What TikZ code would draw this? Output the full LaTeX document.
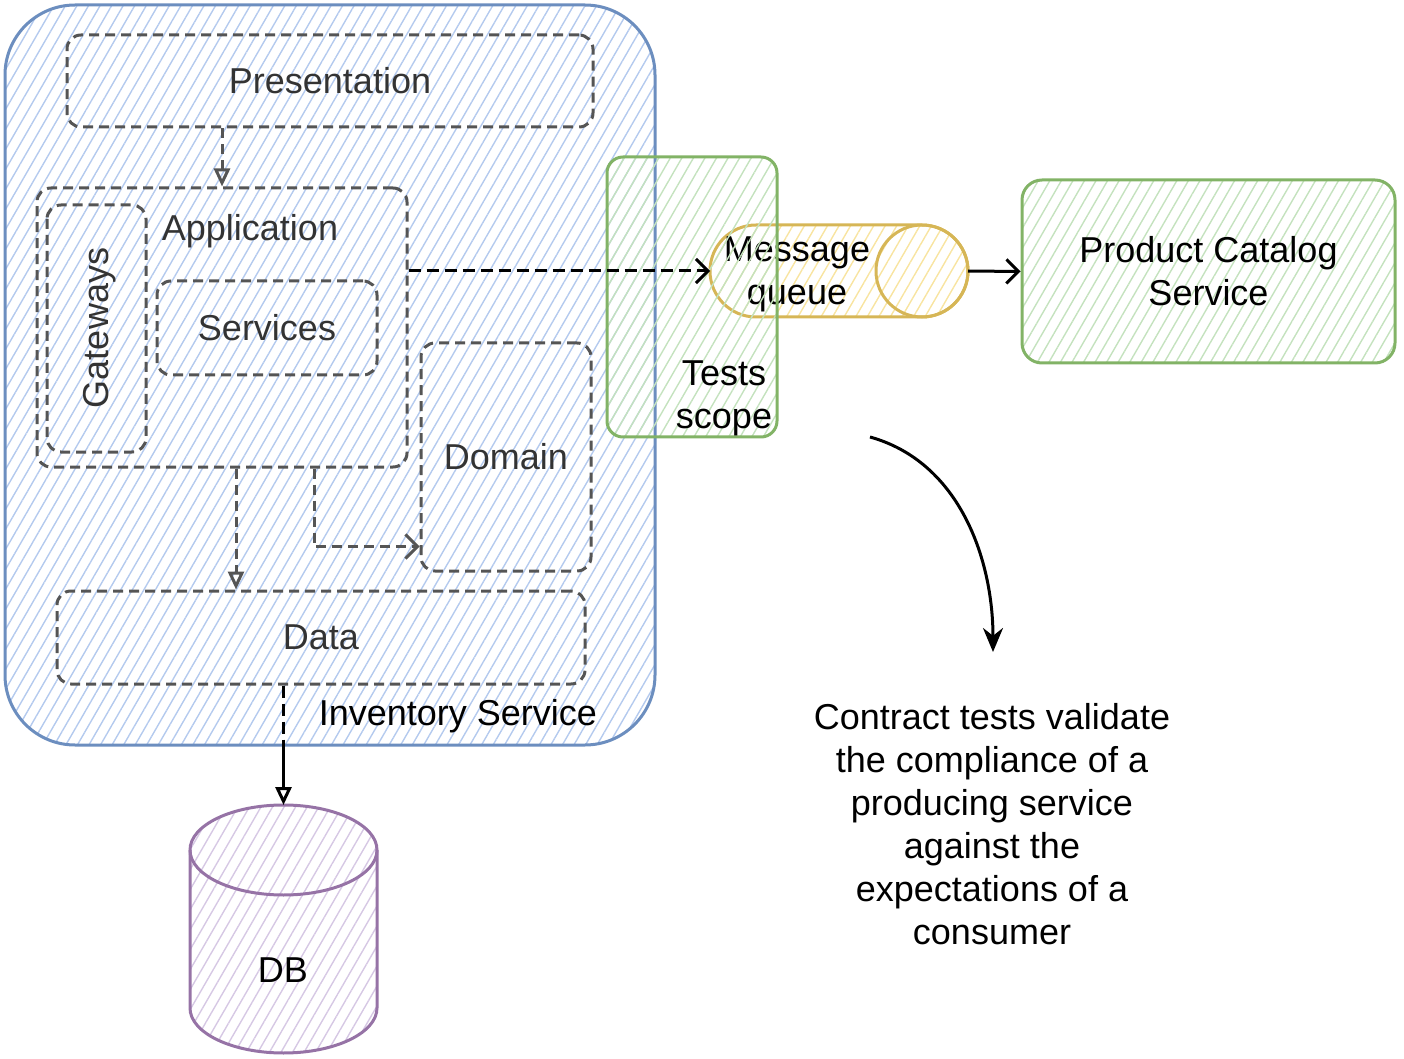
\documentclass[tikz,border=0pt]{standalone}
\usepackage{fontspec}
\setmainfont{Liberation Sans}
\usetikzlibrary{arrows.meta,patterns.meta}

\definecolor{invline}{HTML}{6C8EBF}
\definecolor{invhatch}{RGB}{180,202,238}
\definecolor{tstline}{HTML}{82B366}
\definecolor{tsthatch}{RGB}{196,226,190}
\definecolor{mqline}{HTML}{D6B656}
\definecolor{mqhatch}{RGB}{248,228,160}
\definecolor{dbline}{HTML}{9673A6}
\definecolor{dbhatch}{RGB}{214,200,228}
\definecolor{layergray}{HTML}{555555}
\definecolor{textgray}{HTML}{333333}

\begin{document}
\begin{tikzpicture}[x=0.5pt, y=-0.5pt,
  font=\fontsize{18}{21.5}\selectfont,
  hatch/.style={pattern={Lines[angle=60, distance=5pt, line width=0.7pt]}, pattern color=#1},
  service/.style={draw=invline, line width=1.5pt, rounded corners=35pt, hatch=invhatch, inner sep=0pt},
  layer/.style={draw=layergray, dash pattern=on 5pt off 3pt, line width=1.5pt,
    rounded corners=7pt, inner sep=0pt, text=textgray},
  scopebox/.style={draw=tstline, line width=1.5pt, rounded corners=8pt, hatch=tsthatch, inner sep=0pt},
  store/.style={inner sep=0pt, outer sep=0pt},
  flow/.style={draw=layergray, dash pattern=on 5pt off 3pt, line width=1.5pt},
  >={Triangle[open, length=9pt, width=8pt]}]
  \useasboundingbox (0,0) rectangle (1404,1059);

  \node[service, minimum width=325pt, minimum height=370pt] (inv) at (330,375) {};
  \node[anchor=east] (invtxt) at (604,716) {Inventory Service};

  \node[layer, minimum width=263pt, minimum height=46pt] (pres) at (330,81) {Presentation};
  \node[layer, minimum width=185pt, minimum height=139.5pt] (app) at (222,327.5) {};
  \node[text=textgray] (apptxt) at (250,231) {Application};
  \node[layer, rotate=90, minimum width=123.5pt, minimum height=49.5pt] (gw) at (96.5,328.5) {};
  \node[text=textgray, rotate=90] (gwtxt) at (100,328) {Gateways};
  \node[layer, minimum width=110pt, minimum height=47pt] (svc) at (267,328) {Services};
  \node[layer, minimum width=85pt, minimum height=114pt] (dom) at (506,457) {Domain};
  \node[layer, minimum width=264pt, minimum height=46.5pt] (data) at (321,637.5) {Data};

  % database cylinder
  \node[store, minimum width=93.5pt, minimum height=124pt] (db) at (283.5,929) {};
  \path[draw=dbline, line width=1.5pt, hatch=dbhatch]
    ([yshift=-22.5pt]db.north west) -- ([yshift=22.5pt]db.south west)
    arc[start angle=180, end angle=360, x radius=46.75pt, y radius=22.5pt]
    -- ([yshift=-22.5pt]db.north east)
    arc[start angle=0, end angle=180, x radius=46.75pt, y radius=22.5pt] -- cycle;
  \draw[dbline, line width=1.5pt] ([yshift=-22.5pt]db.north west)
    arc[start angle=180, end angle=360, x radius=46.75pt, y radius=22.5pt];
  \node (dbtxt) at (283,970) {DB};

  % message queue cylinder
  \node[store, minimum width=129pt, minimum height=46pt] (mq) at (839,271) {};
  \path[draw=mqline, line width=1.5pt, hatch=mqhatch]
    ([xshift=23pt]mq.north west)
    arc[start angle=90, end angle=270, radius=23pt]
    -- ([xshift=-23pt]mq.south east)
    arc[start angle=-90, end angle=90, radius=23pt] -- cycle;
  \draw[mqline, line width=1.5pt] ([xshift=-23pt]mq.east) circle[radius=23pt];
  \node[align=center] (mqtxt) at (797,274) {Message\\queue};

  \node[scopebox, minimum width=85pt, minimum height=140pt] (tst) at (692,297) {};
  \node[align=center] (tsttxt) at (724,398) {Tests\\scope};

  \node[scopebox, rounded corners=10pt, minimum width=186.5pt, minimum height=91.5pt, align=center]
    (pc) at (1208.5,271.5) {Product Catalog\\Service};

  \node[align=center] (note) at (992,824)
    {Contract tests validate\\the compliance of a\\producing service\\against the\\expectations of a\\consumer};

  \draw[flow, ->] (app.north |- pres.south) -- (app.north);
  \draw[flow, ->] ([xshift=7pt]app.south) -- ([xshift=7pt]app.south |- data.north);
  \draw[flow, -{Straight Barb[length=6pt]}] ([xshift=46pt]app.south) |- ([yshift=13pt]dom.south west);
  \draw[black, dash pattern=on 6pt off 3pt, line width=1.5pt, -{Straight Barb[length=6pt]}]
    (mq.west -| app.east) -- (mq.west);
  \draw[black, line width=1.5pt, -{Straight Barb[length=6pt]}] (mq.east) -- (pc.west);
  \draw[black, line width=1.5pt, dash pattern=on 6pt off 3pt on 6pt off 3pt on 6pt off 3pt on 40pt off 0pt, ->]
    (data.south -| db.north) -- (db.north);

  \coordinate (cs) at (870,437);
  \coordinate (ce) at (993,652);
  \draw[black, line width=1.5pt, -{Stealth[length=12pt, width=10pt]}]
    (cs) .. controls (960,462) and (993,560) .. (ce);
\end{tikzpicture}
\end{document}
